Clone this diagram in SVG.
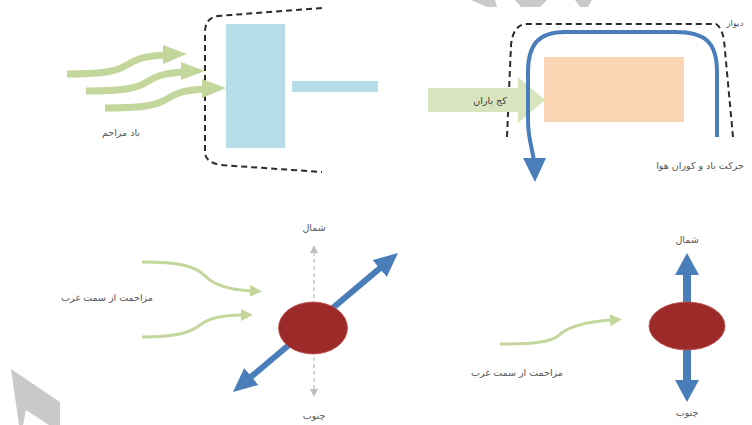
<svg xmlns="http://www.w3.org/2000/svg" width="752" height="425" viewBox="0 0 752 425">
<style>
.lbl{font-family:"DejaVu Sans","Noto Sans",sans-serif;font-size:9.5px;fill:#555555;text-anchor:middle}
.dash{fill:none;stroke:#2b2b2b;stroke-width:2;stroke-dasharray:6 4}
.gw{fill:none;stroke:#c3d69b;stroke-width:7}
.gh{fill:#c3d69b}
.gthin{fill:none;stroke:#c3d69b;stroke-width:3;marker-end:url(#gArrow)}
.blue{fill:none;stroke:#4a7ebb}
.wm{fill:#c9c9c9}
</style>
<defs>
<marker id="gArrow" viewBox="0 0 12 12" refX="2" refY="6" markerWidth="12" markerHeight="12" markerUnits="userSpaceOnUse" orient="auto"><path d="M0,0 L12,6 L0,12 z" fill="#c3d69b"/></marker>
<marker id="bArrow" viewBox="0 0 24 22" refX="4" refY="11" markerWidth="24" markerHeight="22" markerUnits="userSpaceOnUse" orient="auto-start-reverse"><path d="M0,0 L24,11 L0,22 z" fill="#4a7ebb"/></marker>
<marker id="bArrow2" viewBox="0 0 24 24" refX="4" refY="12" markerWidth="24" markerHeight="24" markerUnits="userSpaceOnUse" orient="auto-start-reverse"><path d="M0,0 L22,12 L0,24 z" fill="#4a7ebb"/></marker>
<marker id="grArrow" viewBox="0 0 8 8" refX="1" refY="4" markerWidth="8" markerHeight="8" markerUnits="userSpaceOnUse" orient="auto-start-reverse"><path d="M0,0 L8,4 L0,8 z" fill="#bfbfbf"/></marker>
</defs>
<rect width="752" height="425" fill="#ffffff"/>
<g id="watermark">
<polygon class="wm" points="471,0 495,0 497,7 487,7"/>
<polygon class="wm" points="515,0 547,0 540,7 521,7"/>
<polygon class="wm" points="575,0 592,0 588,7 580,7"/>
<polygon class="wm" points="11,369 60,402 60,425 49,425 26,410 23,425 19,425"/>
</g>
<g id="panel-top-left">
<path class="dash" d="M322,8 L218,16 Q205,18 205,32 L205,152 Q205,162 220,165 L322,172"/>
<rect id="building" x="226" y="24" width="59" height="124" fill="#b7dde8"/>
<rect id="bar" x="292" y="81" width="86" height="11" fill="#b7dde8"/>
<g id="wind-arrows">
<path class="gw" d="M67,74 C100,74 115,72 125,66 C135,59 145,56 165,55"/>
<polygon class="gh" points="163,45 187,54 163,64"/>
<path class="gw" d="M86,91 C120,91 135,89 145,83 C155,76 165,73 183,72"/>
<polygon class="gh" points="181,62 205,71 181,80"/>
<path class="gw" d="M105,108 C140,108 155,106 165,100 C175,93 185,90 204,89"/>
<polygon class="gh" points="202,79 226,88 202,98"/>
</g>
<text class="lbl" x="121" y="136">باد مزاحم</text>
</g>
<g id="panel-top-right">
<path class="dash" d="M507,137 L511,45 Q513,26 525,24 L716,24 Q722,28 724,40 L733,137"/>
<text class="lbl" x="735" y="26" style="font-size:8.5px">دیوار</text>
<rect id="block" x="544" y="57" width="140" height="65" fill="#fbd4b4"/>
<g id="rain-arrow">
<polygon points="428,88 518,88 518,77 545,100 518,123 518,112 428,112" fill="#d7e4bd"/>
<text class="lbl" x="490" y="104" style="fill:#3a3a3a">کج باران</text>
</g>
<path class="blue" stroke-width="4" d="M717,137 L717,72 C717,42 705,32 675,32 L565,32 C538,32 528,45 528,72 L528,120 C528,140 533,150 534,162"/>
<polygon points="523,158 546,158 535,182" fill="#4a7ebb"/>
<text class="lbl" x="700" y="169">حرکت باد و کوران هوا</text>
</g>
<g id="panel-bottom-left">
<line x1="314" y1="252" x2="314" y2="390" stroke="#bfbfbf" stroke-width="1.3" stroke-dasharray="4 3" marker-start="url(#grArrow)" marker-end="url(#grArrow)"/>
<text class="lbl" x="314" y="231">شمال</text>
<text class="lbl" x="314" y="419">چنوب</text>
<line class="blue" stroke-width="6" x1="248.3" y1="379.1" x2="382.7" y2="265.9" marker-start="url(#bArrow)" marker-end="url(#bArrow)"/>
<ellipse id="cell1" cx="313" cy="328" rx="34.5" ry="26" fill="#9b2a28" stroke="#c0504d" stroke-width="0.8"/>
<path class="gthin" d="M142,262 C180,262 195,266 205,276 C215,286 230,290 252,291"/>
<path class="gthin" d="M142,337 C175,337 190,333 200,325 C210,317 225,315 243,315"/>
<text class="lbl" x="107" y="301">مزاحمت از سمت غرب</text>
</g>
<g id="panel-bottom-right">
<line class="blue" stroke-width="8" x1="687" y1="271" x2="687" y2="384" marker-start="url(#bArrow2)" marker-end="url(#bArrow2)"/>
<ellipse id="cell2" cx="687" cy="326" rx="38" ry="24" fill="#9b2a28" stroke="#c0504d" stroke-width="0.8"/>
<text class="lbl" x="687" y="243">شمال</text>
<text class="lbl" x="687" y="416">چنوب</text>
<path class="gthin" d="M500,344 C535,344 550,342 558,336 C566,328 580,322 612,320"/>
<text class="lbl" x="517" y="376">مزاحمت از سمت غرب</text>
</g>
</svg>
